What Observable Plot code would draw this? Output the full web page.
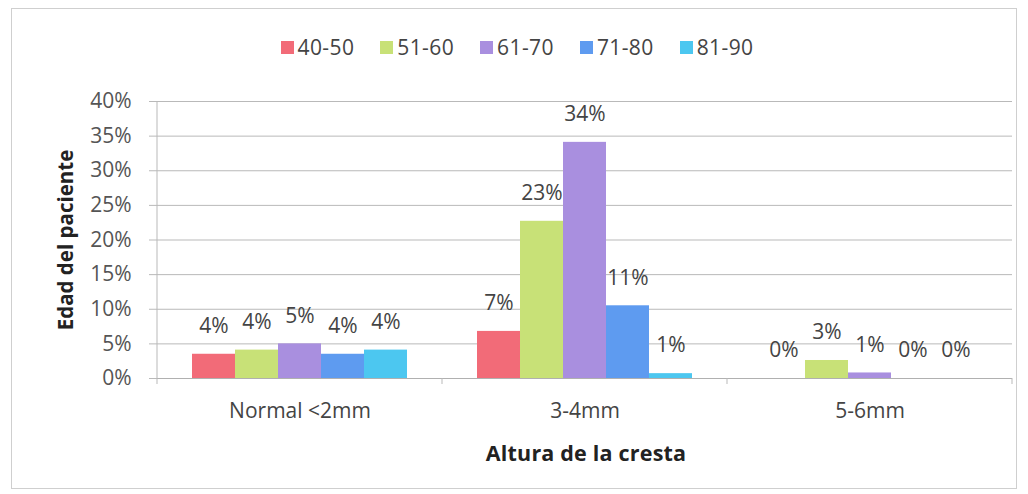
<!DOCTYPE html>
<html>
<head>
<meta charset="utf-8">
<script src="https://cdn.jsdelivr.net/npm/d3@7"></script>
<script src="https://cdn.jsdelivr.net/npm/@observablehq/plot@0.6"></script>
<style>
  html, body { margin: 0; padding: 0; background: #fff; }
  body { width: 1028px; height: 494px; position: relative; overflow: hidden; font-family: "Open Sans", sans-serif; }
  #frame { position: absolute; left: 11px; top: 8px; width: 1006px; height: 481px; border: 1px solid #cfcfcf; box-sizing: border-box; }
  #chart { position: absolute; left: 0; top: 0; }
  #legend { position: absolute; top: 33px; left: 14px; width: 1006px; display: flex; justify-content: center; gap: 26px; font-size: 21px; color: #444; letter-spacing: 0.4px; }
  #legend .item { display: flex; align-items: center; }
  #legend .sw { width: 13px; height: 13px; margin-right: 4px; }
  .title { position: absolute; font-weight: bold; font-size: 20.5px; color: #222; white-space: nowrap; }
  #ytitle { left: 65px; top: 240px; transform: translate(-50%, -50%) rotate(-90deg); }
  #xtitle { left: 586px; top: 452px; transform: translate(-50%, -50%); font-size: 21.5px; letter-spacing: 0.2px; }
</style>
</head>
<body>
<div id="frame"></div>
<div id="chart"></div>
<div id="legend"></div>
<div class="title" id="ytitle">Edad del paciente</div>
<div class="title" id="xtitle">Altura de la cresta</div>
<script>
// Categories (x groups) and series (age ranges)
const categories = ["Normal <2mm", "3-4mm", "5-6mm"];
const ages = ["40-50", "51-60", "61-70", "71-80", "81-90"];
const colors = ["#f26b78", "#c8e177", "#a98fdf", "#5e9bf0", "#4cc7f0"];

// Series values (% of patients), one per category
const v40_50 = [3.5, 6.8, 0];
const v51_60 = [4.1, 22.7, 2.6];
const v61_70 = [5.0, 34.1, 0.8];
const v71_80 = [3.5, 10.5, 0];
const v81_90 = [4.1, 0.7, 0];

// Y axis ticks
const yTicks = [0, 5, 10, 15, 20, 25, 30, 35, 40];

(function () {
  const series = [v40_50, v51_60, v61_70, v71_80, v81_90];
  const data = [];
  categories.forEach((c, ci) => {
    ages.forEach((a, ai) => {
      data.push({cat: c, age: a, value: series[ai][ci]});
    });
  });

  const chart = Plot.plot({
    width: 1028,
    height: 494,
    marginLeft: 157,
    marginRight: 16,
    marginTop: 101,
    marginBottom: 116,
    style: {fontFamily: "'Open Sans', sans-serif", background: "transparent"},
    fx: {domain: categories, padding: 0},
    x: {domain: ages, paddingInner: 0, paddingOuter: 0.77, axis: null},
    y: {domain: [0, 40]},
    color: {domain: ages, range: colors},
    marks: [
      Plot.gridY(yTicks, {stroke: "#b9b9b9", strokeOpacity: 1}),
      Plot.axisY(yTicks, {
        tickFormat: d => d + "%",
        tickSize: 8,
        tickPadding: 18,
        fontSize: 21,
        fill: "#555",
        stroke: "#b9b9b9",
        label: null
      }),
      Plot.axisFx({
        anchor: "bottom",
        tickSize: 0,
        tickPadding: 25,
        fontSize: 21,
        fill: "#444",
        label: null,
        letterSpacing: 1.4
      }),
      Plot.barY(data, {fx: "cat", x: "age", y: "value", fill: "age"}),
      Plot.ruleY([0], {stroke: "#b0b0b0"}),
      Plot.text(data, {
        fx: "cat", x: "age", y: "value",
        text: d => Math.round(d.value) + "%",
        dy: -28,
        fontSize: 21,
        fill: "#444"
      })
    ]
  });
  document.getElementById("chart").appendChild(chart);

  // Excel-style value axis line and category boundary ticks, placed from the fx scale
  const fxS = chart.scale("fx");
  const yS = chart.scale("y");
  const yTop = Math.min(...yS.range), yBottom = Math.max(...yS.range);
  const g = d3.select(chart).append("g").attr("stroke", "#b9b9b9");
  const left0 = fxS.apply(categories[0]);
  g.append("line").attr("x1", left0).attr("x2", left0).attr("y1", yTop).attr("y2", yBottom);
  categories.forEach((c, i) => {
    const xs = [fxS.apply(c)];
    if (i === categories.length - 1) xs.push(fxS.apply(c) + fxS.bandwidth);
    xs.forEach(x => g.append("line").attr("x1", x).attr("x2", x).attr("y1", yBottom).attr("y2", yBottom + 6));
  });

  const legend = d3.select("#legend");
  ages.forEach((a, i) => {
    const it = legend.append("div").attr("class", "item");
    it.append("div").attr("class", "sw").style("background", colors[i]);
    it.append("span").text(a);
  });
})();
</script>
</body>
</html>
